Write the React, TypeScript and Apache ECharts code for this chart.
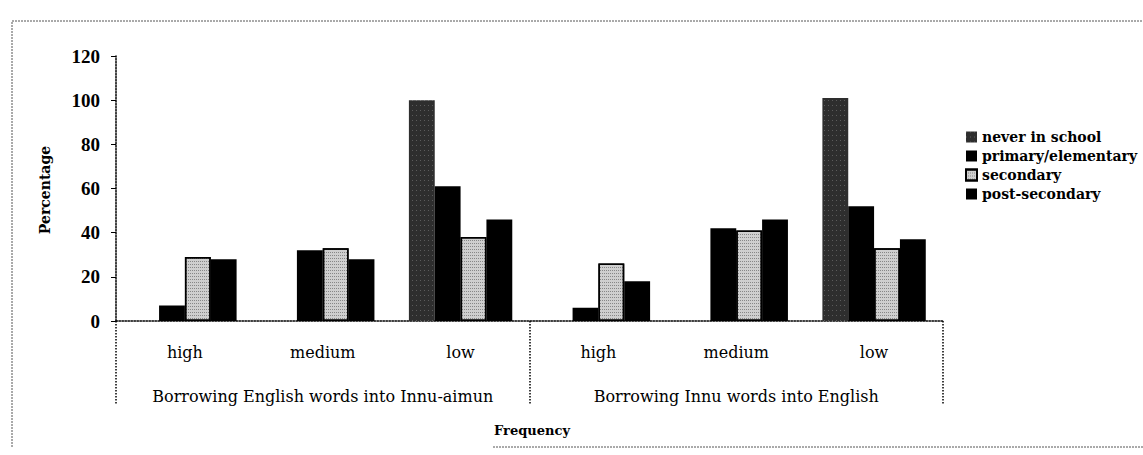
import React, { useEffect, useRef } from "react";
import * as echarts from "echarts";

const levels = ["high", "medium", "low", "high", "medium", "low"];
const groups = ["Borrowing English words into Innu-aimun", "Borrowing Innu words into English"];
const seriesNames = ["never in school", "primary/elementary", "secondary", "post-secondary"];
const neverInSchool = [0, 0, 100, 0, 0, 101];
const primaryElementary = [7, 32, 61, 6, 42, 52];
const secondary = [29, 33, 38, 26, 41, 33];
const postSecondary = [28, 28, 46, 18, 46, 37];
const yTicks = { min: 0, max: 120, interval: 20 };

const serif = "'DejaVu Serif', serif";
const timesFont = "'Liberation Serif', 'Times New Roman', serif";

export default function App() {
  const ref = useRef<HTMLDivElement>(null);
  useEffect(() => {
    if (!ref.current) return;
    const chart = echarts.init(ref.current, null, { renderer: "svg" });
    const barBase = { type: "bar", barGap: "0%", barCategoryGap: "25%", xAxisIndex: 0, yAxisIndex: 0 };
    chart.setOption({
      animation: false,
      backgroundColor: "#fff",
      grid: { left: 116, right: 200, top: 56, bottom: 134, containLabel: false },
      legend: {
        orient: "vertical",
        left: 960,
        top: 125,
        icon: "rect",
        itemWidth: 11,
        itemHeight: 11,
        itemGap: 5,
        data: seriesNames,
        textStyle: { fontFamily: serif, fontWeight: "bold", fontSize: 14, color: "#000", lineHeight: 14 },
      },
      xAxis: [
        {
          type: "category",
          data: levels,
          position: "bottom",
          axisLine: { show: true, lineStyle: { color: "#000", type: "dotted", width: 1.5 } },
          axisTick: { show: false },
          axisLabel: { margin: 23, fontFamily: serif, fontSize: 16, color: "#000", interval: 0 },
          splitLine: { show: false },
        },
        {
          type: "category",
          data: groups,
          position: "bottom",
          axisLine: { show: false },
          axisTick: { show: true, interval: 0, length: 84, lineStyle: { color: "#000", type: "dotted", width: 1.5 } },
          axisLabel: { margin: 67, fontFamily: serif, fontSize: 16, color: "#000", interval: 0 },
          splitLine: { show: false },
        },
      ],
      yAxis: {
        type: "value",
        min: yTicks.min,
        max: yTicks.max,
        interval: yTicks.interval,
        axisLine: { show: true, lineStyle: { color: "#000", type: "dotted", width: 1.5 } },
        axisTick: { show: true, length: 5, lineStyle: { color: "#000", width: 1 } },
        axisLabel: { margin: 16, fontFamily: timesFont, fontWeight: "bold", fontSize: 19, color: "#000" },
        splitLine: { show: false },
      },
      series: [
        {
          ...barBase,
          name: seriesNames[0],
          data: neverInSchool,
          itemStyle: {
            color: "#2e2e2e",
            decal: { symbol: "rect", symbolSize: 1, color: "rgba(255,255,255,0.22)", dashArrayX: [1, 3], dashArrayY: [1, 4] },
          },
        },
        { ...barBase, name: seriesNames[1], data: primaryElementary, itemStyle: { color: "#000" } },
        {
          ...barBase,
          name: seriesNames[2],
          data: secondary,
          itemStyle: {
            color: "#cfcfcf",
            borderColor: "#000",
            borderWidth: 1.5,
            decal: { symbol: "rect", symbolSize: 1, color: "rgba(0,0,0,0.35)", dashArrayX: [1, 1], dashArrayY: [1, 2] },
          },
        },
        { ...barBase, name: seriesNames[3], data: postSecondary, itemStyle: { color: "#000" } },
      ],
      graphic: [
        {
          type: "polyline",
          shape: { points: [[12, 447], [12, 21], [1143, 21]] },
          style: { stroke: "#555", lineWidth: 1, lineDash: [2, 1], fill: null },
          silent: true,
        },
        {
          type: "line",
          shape: { x1: 493, y1: 447, x2: 1143, y2: 447 },
          style: { stroke: "#555", lineWidth: 1, lineDash: [2, 1] },
          silent: true,
        },
        {
          type: "text",
          x: 45,
          y: 190,
          rotation: Math.PI / 2,
          style: {
            text: "Percentage",
            fontFamily: serif,
            fontWeight: "bold",
            fontSize: 14,
            fill: "#000",
            textAlign: "center",
            textVerticalAlign: "middle",
          },
        },
        {
          type: "text",
          x: 532,
          y: 430,
          style: {
            text: "Frequency",
            fontFamily: serif,
            fontWeight: "bold",
            fontSize: 13,
            fill: "#000",
            textAlign: "center",
            textVerticalAlign: "middle",
          },
        },
      ],
    });
    return () => chart.dispose();
  }, []);
  return <div ref={ref} style={{ position: "absolute", left: 0, top: 0, width: 1143, height: 455 }} />;
}
